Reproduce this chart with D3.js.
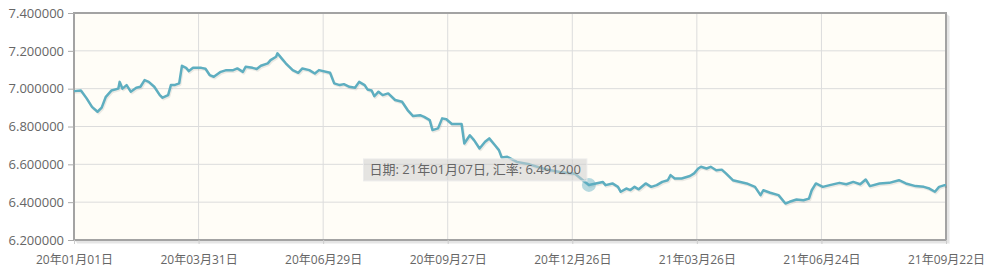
<!DOCTYPE html>
<html>
<head>
<meta charset="utf-8">
<script src="https://cdn.jsdelivr.net/npm/d3@7"></script>
<style>
  body { margin: 0; background: #fff; }
  svg text { font-family: "Open Sans", "Noto Sans CJK SC", sans-serif; }
</style>
</head>
<body>
<svg id="chart" width="995" height="279"></svg>
<script>
const WIDTH = 995;
const HEIGHT = 279;
const MARGIN = { top: 13, right: 49, bottom: 39, left: 74 };

// daily rate samples
const dates = [
  "2020-01-01","2020-01-06","2020-01-10","2020-01-14","2020-01-18","2020-01-21","2020-01-24","2020-01-28",
  "2020-02-02","2020-02-03","2020-02-05","2020-02-08","2020-02-11","2020-02-15","2020-02-18","2020-02-21",
  "2020-02-24","2020-02-28","2020-03-03","2020-03-05","2020-03-09","2020-03-11","2020-03-14","2020-03-17",
  "2020-03-19","2020-03-22","2020-03-24","2020-03-27","2020-04-02","2020-04-05","2020-04-08","2020-04-11",
  "2020-04-16","2020-04-20","2020-04-25","2020-04-28","2020-05-02","2020-05-04","2020-05-09","2020-05-12",
  "2020-05-15","2020-05-20","2020-05-22","2020-05-26","2020-05-27","2020-05-30","2020-06-02","2020-06-07",
  "2020-06-11","2020-06-14","2020-06-19","2020-06-23","2020-06-26","2020-07-04","2020-07-07","2020-07-11",
  "2020-07-14","2020-07-18","2020-07-22","2020-07-25","2020-07-29","2020-07-31","2020-08-03","2020-08-05",
  "2020-08-08","2020-08-11","2020-08-15","2020-08-20","2020-08-25","2020-08-29","2020-09-02","2020-09-07",
  "2020-09-10","2020-09-14","2020-09-16","2020-09-20","2020-09-23","2020-09-26","2020-09-30","2020-10-07",
  "2020-10-09","2020-10-13","2020-10-16","2020-10-20","2020-10-24","2020-10-27","2020-10-31","2020-11-03",
  "2020-11-05","2020-11-09","2020-11-16","2020-11-25","2020-12-06","2020-12-17","2020-12-28","2021-01-02",
  "2021-01-07","2021-01-12","2021-01-17","2021-01-19","2021-01-24","2021-01-28","2021-01-30","2021-02-03",
  "2021-02-06","2021-02-09","2021-02-12","2021-02-17","2021-02-21","2021-02-25","2021-03-01","2021-03-05",
  "2021-03-07","2021-03-10","2021-03-15","2021-03-21","2021-03-24","2021-03-27","2021-03-29","2021-04-02",
  "2021-04-05","2021-04-09","2021-04-13","2021-04-16","2021-04-21","2021-05-01","2021-05-07","2021-05-11",
  "2021-05-13","2021-05-18","2021-05-24","2021-05-29","2021-06-01","2021-06-06","2021-06-11","2021-06-15",
  "2021-06-17","2021-06-20","2021-06-25","2021-06-30","2021-07-07","2021-07-12","2021-07-17","2021-07-22",
  "2021-07-26","2021-07-29","2021-08-05","2021-08-12","2021-08-19","2021-08-24","2021-08-31","2021-09-06",
  "2021-09-10","2021-09-14","2021-09-17","2021-09-21","2021-09-22"
];
const rates = [
  6.987,6.990,6.950,6.904,6.878,6.900,6.957,6.990,
  7.000,7.036,7.000,7.019,6.984,7.005,7.010,7.045,
  7.036,7.010,6.966,6.952,6.966,7.019,7.020,7.028,
  7.121,7.110,7.093,7.110,7.110,7.105,7.072,7.063,
  7.089,7.098,7.098,7.107,7.089,7.116,7.110,7.104,
  7.121,7.134,7.151,7.169,7.187,7.160,7.134,7.098,
  7.084,7.107,7.098,7.080,7.098,7.084,7.028,7.019,
  7.024,7.010,7.005,7.036,7.019,6.996,6.990,6.960,
  6.984,6.966,6.975,6.940,6.931,6.887,6.855,6.860,
  6.851,6.834,6.781,6.790,6.843,6.838,6.813,6.813,
  6.710,6.754,6.728,6.684,6.719,6.737,6.702,6.675,
  6.636,6.640,6.613,6.600,6.575,6.560,6.550,6.520,
  6.4912,6.499,6.507,6.490,6.499,6.481,6.455,6.472,
  6.464,6.481,6.468,6.499,6.481,6.490,6.507,6.516,
  6.543,6.525,6.525,6.538,6.552,6.578,6.587,6.578,
  6.587,6.569,6.572,6.552,6.516,6.499,6.481,6.437,
  6.463,6.450,6.437,6.393,6.402,6.414,6.410,6.419,
  6.463,6.499,6.481,6.490,6.502,6.495,6.507,6.495,
  6.520,6.485,6.499,6.502,6.516,6.499,6.485,6.481,
  6.472,6.455,6.481,6.490,6.490
];

const xTicks = ["2020-01-01","2020-03-31","2020-06-29","2020-09-27","2020-12-26","2021-03-26","2021-06-24","2021-09-22"];
const yTicks = [6.2, 6.4, 6.6, 6.8, 7.0, 7.2, 7.4];

const hoverDate = "2021-01-07";
const hoverRate = 6.4912;

const LINE_COLOR = "#5eaec0";

const parse = d3.timeParse("%Y-%m-%d");
const fmtDate = d3.timeFormat("%y年%m月%d日");
const fmtRate = d3.format(".6f");

function drawChart() {
  const svg = d3.select("#chart");
  const w = WIDTH - MARGIN.left - MARGIN.right;
  const h = HEIGHT - MARGIN.top - MARGIN.bottom;

  const data = dates.map((d, i) => ({ date: parse(d), rate: rates[i] }));

  const x = d3.scaleTime()
    .domain([parse(xTicks[0]), parse(xTicks[xTicks.length - 1])])
    .range([0, w]);
  const y = d3.scaleLinear()
    .domain([yTicks[0], yTicks[yTicks.length - 1]])
    .range([h, 0]);

  const g = svg.append("g").attr("transform", `translate(${MARGIN.left},${MARGIN.top})`);

  // plot background
  g.append("rect")
    .attr("width", w).attr("height", h)
    .attr("fill", "#fffdf7");

  // grid
  g.append("g").selectAll("line.v")
    .data(xTicks.slice(1, -1))
    .join("line")
    .attr("x1", d => x(parse(d))).attr("x2", d => x(parse(d)))
    .attr("y1", 0).attr("y2", h)
    .attr("stroke", "#dcdcdc").attr("stroke-width", 1);
  g.append("g").selectAll("line.h")
    .data(yTicks.slice(1, -1))
    .join("line")
    .attr("x1", 0).attr("x2", w)
    .attr("y1", d => y(d)).attr("y2", d => y(d))
    .attr("stroke", "#dcdcdc").attr("stroke-width", 1);

  // border shadow + border
  const sh = g.append("g").attr("fill", "none");
  [1, 2, 3].forEach(k => {
    sh.append("path")
      .attr("d", `M${w + k},${k} L${w + k},${h + k} L${k},${h + k}`)
      .attr("stroke", "rgba(0,0,0,0.07)")
      .attr("stroke-width", 1.5);
  });
  g.append("rect")
    .attr("width", w).attr("height", h)
    .attr("fill", "none")
    .attr("stroke", "#a3a3a3").attr("stroke-width", 2);

  // axes
  const yAxis = g.append("g")
    .call(d3.axisLeft(y).tickValues(yTicks).tickFormat(fmtRate).tickSize(6).tickPadding(4));
  yAxis.select(".domain").remove();
  yAxis.selectAll(".tick line").attr("stroke", "#aaa");
  yAxis.selectAll(".tick text").attr("fill", "#666").attr("font-size", "13px");

  const xAxis = g.append("g")
    .attr("transform", `translate(0,${h})`)
    .call(d3.axisBottom(x).tickValues(xTicks.map(parse)).tickFormat(fmtDate).tickSize(4).tickPadding(11));
  xAxis.select(".domain").remove();
  xAxis.selectAll(".tick line").attr("stroke", "#ccc");
  xAxis.selectAll(".tick text").attr("fill", "#666").attr("font-size", "12px");

  // series
  const line = d3.line()
    .x(d => x(d.date))
    .y(d => y(d.rate));

  g.append("path")
    .datum(data)
    .attr("d", line)
    .attr("transform", "translate(1,1.5)")
    .attr("fill", "none")
    .attr("stroke", "rgba(0,0,0,0.08)")
    .attr("stroke-width", 2.5)
    .attr("stroke-linejoin", "round");

  g.append("path")
    .datum(data)
    .attr("d", line)
    .attr("fill", "none")
    .attr("stroke", LINE_COLOR)
    .attr("stroke-width", 2.5)
    .attr("stroke-linejoin", "round");

  // highlighter
  const hx = x(parse(hoverDate));
  const hy = y(hoverRate);
  g.append("circle")
    .attr("cx", hx).attr("cy", hy).attr("r", 7)
    .attr("fill", "rgba(94,174,192,0.45)");

  const tip = g.append("g");
  const tipText = tip.append("text")
    .attr("font-size", "13px")
    .attr("fill", "#666")
    .text(`日期: ${fmtDate(parse(hoverDate))}, 汇率: ${fmtRate(hoverRate)}`);
  const tw = tipText.node().getComputedTextLength();
  const bw = tw + 12, bh = 22;
  const bx = hx - 2 - bw, by = hy - 4 - bh;
  tip.insert("rect", "text")
    .attr("x", bx).attr("y", by)
    .attr("width", bw).attr("height", bh)
    .attr("fill", "rgba(208,208,208,0.55)")
    .attr("stroke", "rgba(235,235,235,0.9)");
  tipText.attr("x", bx + 6).attr("y", by + 15.5);
}

window.onload = drawChart;
</script>
</body>
</html>
